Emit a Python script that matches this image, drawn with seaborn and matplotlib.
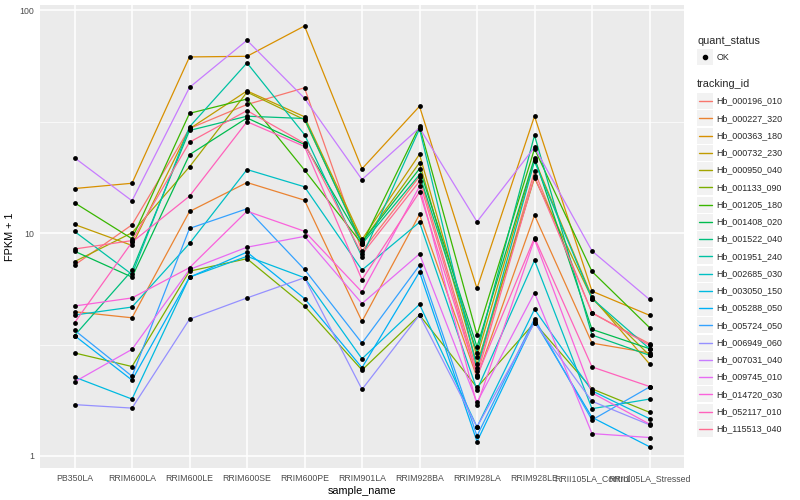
import numpy as np
import pandas as pd
import matplotlib
matplotlib.use("Agg")
import matplotlib.pyplot as plt
from matplotlib.lines import Line2D
from matplotlib.patches import Rectangle
from matplotlib.ticker import NullFormatter
import seaborn as sns

# --- Data (FPKM + 1) ---
samples = ["PB350LA", "RRIM600LA", "RRIM600LE", "RRIM600SE", "RRIM600PE", "RRIM901LA",
           "RRIM928BA", "RRIM928LA", "RRIM928LE", "RRII105LA_Control", "RRII105LA_Stressed"]

tracking_ids = ["Hb_000196_010", "Hb_000227_320", "Hb_000363_180", "Hb_000732_230",
                "Hb_000950_040", "Hb_001133_090", "Hb_001205_180", "Hb_001408_020",
                "Hb_001522_040", "Hb_001951_240", "Hb_002685_030", "Hb_003050_150",
                "Hb_005288_050", "Hb_005724_050", "Hb_006949_060", "Hb_007031_040",
                "Hb_009745_010", "Hb_014720_030", "Hb_052117_010", "Hb_115513_040"]

hb_000196_010 = [7.19, 10.9, 29.5, 37.8, 44.9, 8.30, 17.96, 2.41, 18.97, 4.38, 3.19]
hb_000227_320 = [4.44, 4.17, 12.51, 16.88, 14.06, 4.02, 12.13, 2.25, 12.04, 3.21, 2.90]
hb_000363_180 = [15.86, 16.75, 61.8, 62.2, 85.1, 19.45, 37.1, 5.65, 33.5, 5.49, 4.28]
hb_000732_230 = [10.94, 8.81, 29.4, 43.5, 33.3, 9.37, 22.6, 2.79, 21.4, 5.17, 2.59]
hb_000950_040 = [7.45, 10.04, 19.85, 42.95, 32.3, 9.11, 20.7, 2.58, 17.7, 5.09, 2.83]
hb_001133_090 = [2.90, 2.52, 6.75, 7.68, 4.71, 2.43, 4.29, 2.03, 3.96, 2.00, 1.57]
hb_001205_180 = [13.69, 9.44, 34.5, 40.0, 19.2, 8.94, 30.2, 3.49, 23.9, 6.73, 3.77]
hb_001408_020 = [8.30, 6.35, 22.5, 32.9, 25.0, 9.11, 19.45, 3.09, 21.8, 3.70, 3.03]
hb_001522_040 = [3.47, 6.80, 28.9, 33.5, 32.7, 8.94, 18.3, 2.91, 27.5, 3.49, 2.83]
hb_001951_240 = [10.18, 6.53, 30.0, 58.1, 27.7, 7.84, 29.4, 2.47, 21.0, 5.09, 3.03]
hb_002685_030 = [4.29, 4.66, 8.99, 19.3, 16.15, 6.83, 11.2, 1.98, 7.55, 1.63, 1.80]
hb_003050_150 = [2.26, 1.80, 6.35, 7.87, 6.31, 2.73, 4.79, 1.35, 4.55, 1.96, 1.47]
hb_005288_050 = [3.47, 2.19, 6.34, 8.22, 5.09, 2.49, 6.70, 1.16, 4.03, 1.49, 1.10]
hb_005724_050 = [3.67, 2.28, 10.5, 12.87, 6.87, 3.21, 7.17, 1.23, 4.13, 1.45, 2.04]
hb_006949_060 = [1.70, 1.64, 4.11, 5.12, 6.31, 1.99, 4.29, 1.35, 3.96, 1.76, 1.38]
hb_007031_040 = [21.8, 13.97, 45.1, 73.4, 40.3, 17.4, 29.7, 11.25, 24.3, 8.32, 5.04]
hb_009745_010 = [2.15, 3.01, 6.87, 8.65, 9.67, 4.83, 8.07, 1.74, 5.40, 1.26, 1.21]
hb_014720_030 = [4.71, 5.12, 7.00, 12.55, 10.2, 5.44, 16.2, 1.69, 9.37, 1.92, 1.39]
hb_052117_010 = [3.96, 9.11, 14.66, 31.65, 24.5, 6.18, 15.3, 2.28, 9.54, 2.51, 2.05]
hb_115513_040 = [8.49, 9.26, 25.6, 35.5, 25.3, 8.04, 17.1, 2.30, 18.0, 4.40, 3.14]

series = [hb_000196_010, hb_000227_320, hb_000363_180, hb_000732_230, hb_000950_040,
          hb_001133_090, hb_001205_180, hb_001408_020, hb_001522_040, hb_001951_240,
          hb_002685_030, hb_003050_150, hb_005288_050, hb_005724_050, hb_006949_060,
          hb_007031_040, hb_009745_010, hb_014720_030, hb_052117_010, hb_115513_040]

# ggplot2 default hue palette for 20 levels
colours = ["#F8766D", "#EA8331", "#D89000", "#C09B00", "#A3A500", "#7CAE00", "#39B600",
           "#00BB4E", "#00BF7D", "#00C1A3", "#00BFC4", "#00BAE0", "#00B0F6", "#35A2FF",
           "#9590FF", "#C77CFF", "#E76BF3", "#FA62DB", "#FF62BC", "#FF6C91"]

rows = []
for tid, vals in zip(tracking_ids, series):
    for s, v in zip(samples, vals):
        rows.append({"tracking_id": tid, "sample_name": s, "FPKM + 1": v, "quant_status": "OK"})
df = pd.DataFrame(rows)

# --- Plot ---
sns.set_theme(style="darkgrid")
plt.rcParams["font.family"] = ["Liberation Sans", "DejaVu Sans"]

W, H = 800, 500
fig = plt.figure(figsize=(8, 5), dpi=100)
ax = fig.add_axes([40 / W, 32 / H, 644 / W, 463 / H])
ax.set_facecolor("#EBEBEB")

sns.lineplot(data=df, x="sample_name", y="FPKM + 1", hue="tracking_id",
             hue_order=tracking_ids, palette=colours, estimator=None, sort=False,
             lw=0.9, legend=False, ax=ax)
sns.scatterplot(data=df, x="sample_name", y="FPKM + 1", color="black", s=12,
                linewidth=0, legend=False, ax=ax, zorder=3)

ax.set_yscale("log")
ax.set_ylim(0.883, 105.7)
ax.set_xlim(-0.6, len(samples) - 0.4)
ax.set_yticks([1, 10, 100])
ax.set_yticklabels(["1", "10", "100"])
ax.set_yticks([10 ** 0.5, 10 ** 1.5], minor=True)
ax.yaxis.set_minor_formatter(NullFormatter())

ax.set_axisbelow(True)
ax.grid(which="major", color="white", lw=1.1)
ax.grid(which="minor", axis="y", color="white", lw=0.5)
ax.tick_params(which="minor", length=0)
ax.tick_params(axis="both", which="major", labelsize=6.3, labelcolor="#4D4D4D",
               color="#333333", length=2.75, width=0.6, pad=1.5)
for sp in ax.spines.values():
    sp.set_visible(False)

ax.set_xlabel("sample_name", fontsize=7.8, labelpad=2, color="black")
ax.set_ylabel("FPKM + 1", fontsize=7.8, labelpad=3, color="black")


# --- Legends (ggplot-style keys) ---
def fx(px):
    return px / W


def fy(py):
    return 1 - py / H


key = 16
fig.text(fx(697), fy(40.7), "quant_status", fontsize=7.8, va="center", ha="left")
fig.add_artist(Rectangle((fx(697), fy(57 + key / 2)), key / W, key / H,
                         transform=fig.transFigure, facecolor="#F2F2F2", edgecolor="none"))
fig.add_artist(Line2D([fx(705)], [fy(57)], marker="o", ms=3, color="black",
                      transform=fig.transFigure))
fig.text(fx(716.5), fy(57), "OK", fontsize=6.4, va="center", ha="left")

fig.text(fx(697), fy(84.3), "tracking_id", fontsize=7.8, va="center", ha="left")
for i, (tid, col) in enumerate(zip(tracking_ids, colours)):
    yc = 101 + 17.26 * i
    fig.add_artist(Rectangle((fx(697), fy(yc + key / 2)), key / W, key / H,
                             transform=fig.transFigure, facecolor="#F2F2F2", edgecolor="none"))
    fig.add_artist(Line2D([fx(698.5), fx(711.5)], [fy(yc), fy(yc)], color=col, lw=1,
                          transform=fig.transFigure))
    fig.text(fx(716.5), fy(yc), tid, fontsize=6.4, va="center", ha="left")

fig.savefig("out.png", dpi=100, facecolor="white")
